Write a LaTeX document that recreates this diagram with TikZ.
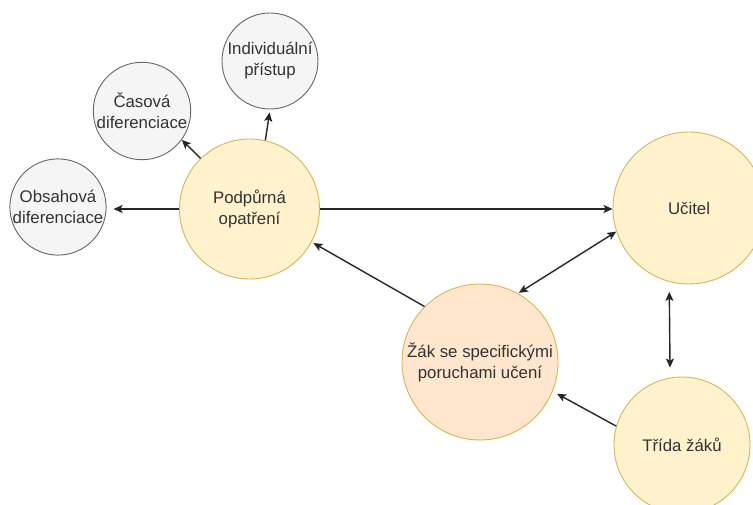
\documentclass[tikz,border=0pt]{standalone}
\usepackage{fontspec}
\setmainfont{Liberation Sans}
\usetikzlibrary{arrows.meta}
\definecolor{yfill}{HTML}{FFF2CC}
\definecolor{ydraw}{HTML}{D6B656}
\definecolor{ofill}{HTML}{FFE6CC}
\definecolor{gfill}{HTML}{F5F5F5}
\definecolor{gdraw}{HTML}{666666}
\definecolor{txt}{HTML}{333333}
\tikzset{
  circ/.style={circle, inner sep=0pt, align=center, text=txt,
    font=\fontsize{16.8}{21}\selectfont, line width=0.9pt},
  ycirc/.style={circ, fill=yfill, draw=ydraw},
  ocirc/.style={circ, fill=ofill, draw=ydraw},
  gcirc/.style={circ, fill=gfill, draw=gdraw},
  conn/.style={line width=1.4pt, draw=black!85, -{Stealth[length=9pt,width=8pt,inset=2pt]}},
  biconn/.style={line width=1.4pt, draw=black!85, {Stealth[length=9pt,width=8pt,inset=2pt]}-{Stealth[length=9pt,width=8pt,inset=2pt]}}
}
\begin{document}
\begin{tikzpicture}[x=1pt,y=-1pt]
\useasboundingbox (0,0) rectangle (753,505);
\clip (0,0) rectangle (753,505);
\fill[white] (0,0) rectangle (753,505);
\node[ycirc, minimum size=140pt] (pod) at (249.5,209) {Podpůrná\\opatření};
\node[ycirc, minimum size=152pt] (uc) at (689,208) {Učitel};
\node[ocirc, minimum size=156pt] (zak) at (480,362) {Žák se specifickými\\poruchami učení};
\node[ycirc, minimum size=136pt] (tr) at (682,445) {Třída žáků};
\node[gcirc, minimum size=94pt] (obs) at (58,207) {Obsahová\\diferenciace};
\node[gcirc, minimum size=94pt] (cas) at (142,111) {Časová\\diferenciace};
\node[gcirc, minimum size=96pt] (ind) at (270,61) {Individuální\\přístup};

\draw[conn, shorten >=7pt] (pod.west) -- (obs.east |- pod.west);
\draw[conn] (pod.134) -- (cas.-36);
\draw[conn, shorten >=3pt] (pod.77) -- (ind.south);
\draw[conn] (pod.east) -- (uc.west |- pod.east);
\draw[conn, shorten >=2pt] (zak.135) -- (pod.-28);
\draw[biconn, shorten <=1pt] (zak.61) -- (uc.198);
\draw[biconn, shorten <=10pt, shorten >=10pt] (uc.255) -- (tr.100);
\draw[conn, shorten >=5pt] (tr.164) -- (zak.-22);
\end{tikzpicture}
\end{document}
